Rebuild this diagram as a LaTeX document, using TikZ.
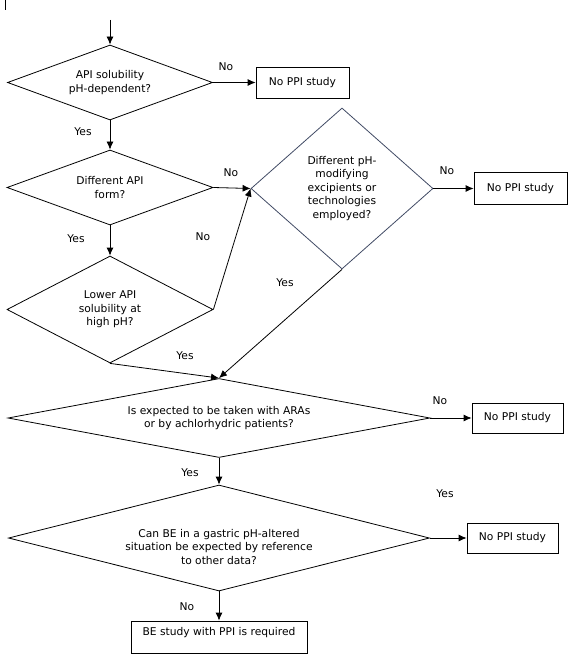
\documentclass[tikz,border=0pt]{standalone}
\usepackage{fontspec}
\setmainfont{DejaVu Sans}
\usetikzlibrary{shapes.geometric,arrows.meta}
\definecolor{slate}{RGB}{64,74,100}
\begin{document}
\begin{tikzpicture}[x=1pt,y=-1pt,
        font=\fontsize{10.7}{13.5}\selectfont,
        ask/.style={draw, diamond, inner sep=1pt, align=center, line width=0.8pt},
        stop/.style={draw, rectangle, minimum width=93, minimum height=31, line width=0.8pt},
        flow/.style={draw, line width=0.8pt, -{Latex[length=8pt,width=7pt]}},
        tag/.style={inner sep=0pt}]
        \useasboundingbox (0,0) rectangle (571,655);
        \coordinate (m1) at (5,0);
        \coordinate (m2) at (5,10);
        \coordinate (s) at (110,20);
        \node[ask, minimum width=205, minimum height=75, aspect=2.7] (q1) at (110,82.5) {API solubility\\pH-dependent?};
        \node[ask, minimum width=206, minimum height=75, aspect=2.7] (q2) at (110,187.5) {Different API\\form?};
        \node[ask, draw=slate, minimum width=182, minimum height=161, aspect=1.13] (q3) at (342,188.5) {Different pH-\\modifying\\excipients or\\technologies\\employed?};
        \node[ask, minimum width=206, minimum height=107, aspect=1.9] (q4) at (110,309.5) {Lower API\\solubility at\\high pH?};
        \node[ask, minimum width=422, minimum height=79, aspect=5.3] (q5) at (219,418) {Is expected to be taken with ARAs\\or by achlorhydric patients?};
        \node[ask, minimum width=421, minimum height=106, aspect=4] (q6) at (219,538) {};
        \node[tag, align=center] (q6t) at (219,547) {Can BE in a gastric pH-altered\\situation be expected by reference\\to other data?};
        \node[stop] (n1) at (302.5,82.5) {No PPI study};
        \node[stop, minimum height=32] (n2) at (520.5,188.5) {No PPI study};
        \node[stop, minimum width=91, minimum height=30] (n3) at (517.5,418) {No PPI study};
        \node[stop, minimum width=91, minimum height=30] (n4) at (512.5,538) {No PPI study};
        \node[stop, minimum width=176, minimum height=32, text depth=10.5pt] (n5) at (219,637) {BE study with PPI is required};
        \path[draw, line width=0.8pt] (m1) -- (m2);
        \path[flow] (s) -- (q1.north);
        \path[flow] (q1.east) -- (n1.west);
        \path[flow] (q1.south) -- (q2.north);
        \path[flow] (q2.east) -- (q3.west);
        \path[flow] (q2.south) -- (q4.north);
        \path[flow] (q4.east) -- (q3.west);
        \path[flow] (q3.east) -- (n2.west);
        \path[flow] (q4.south) -- (q5.north);
        \path[flow] (q3.south) -- (q5.north);
        \path[flow] (q5.east) -- (n3.west);
        \path[flow] (q5.south) -- (q6.north);
        \path[flow] (q6.east) -- (n4.west);
        \path[flow] (q6.south) -- (n5.north);
        \node[tag] (l1) at (226,67) {No};
        \node[tag] (l2) at (83,132) {Yes};
        \node[tag] (l3) at (231,173) {No};
        \node[tag] (l4) at (76,239) {Yes};
        \node[tag] (l5) at (203,237) {No};
        \node[tag] (l6) at (447,171) {No};
        \node[tag] (l7) at (285,283) {Yes};
        \node[tag] (l8) at (185,356) {Yes};
        \node[tag] (l9) at (440,401) {No};
        \node[tag] (l10) at (190,473) {Yes};
        \node[tag] (l11) at (445,494) {Yes};
        \node[tag] (l12) at (187,607) {No};
    \end{tikzpicture}
\end{document}
